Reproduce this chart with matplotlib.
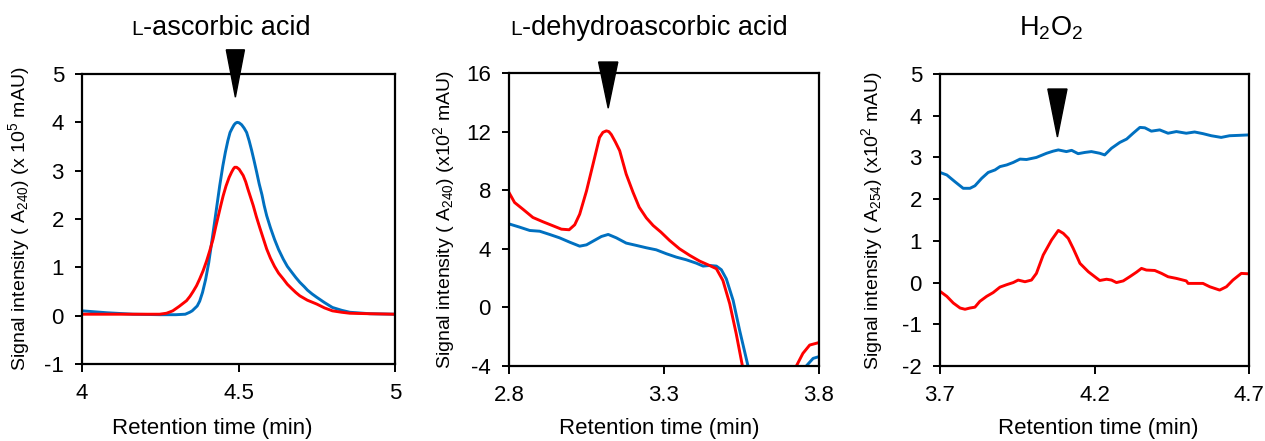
import matplotlib
matplotlib.use('Agg')
import numpy as np
import matplotlib.pyplot as plt

plt.rcParams['font.family'] = ['Liberation Sans', 'DejaVu Sans']
plt.rcParams['mathtext.default'] = 'regular'
plt.rcParams['axes.unicode_minus'] = False

BLUE = '#0070C0'
RED = '#FF0000'

# panel 1: L-ascorbic acid (x 10^5 mAU)
asc_blue_t = [4.0, 4.08, 4.163, 4.25, 4.30, 4.33, 4.344, 4.352, 4.36, 4.368, 4.376, 4.385, 4.395,
              4.405, 4.414, 4.425, 4.44, 4.45, 4.458, 4.466, 4.473, 4.48, 4.486, 4.491, 4.496,
              4.502, 4.51, 4.518, 4.526, 4.534, 4.542, 4.55, 4.558, 4.566, 4.575, 4.582, 4.59,
              4.602, 4.615, 4.628, 4.643, 4.656, 4.67, 4.683, 4.696, 4.71, 4.72, 4.735, 4.75,
              4.775, 4.80, 4.83, 4.856, 4.92, 5.0]
asc_blue_v = [0.1, 0.06, 0.03, 0.02, 0.02, 0.03, 0.07, 0.1, 0.15, 0.2, 0.3, 0.48, 0.75,
              1.1, 1.5, 2.0, 2.69, 3.1, 3.38, 3.62, 3.79, 3.88, 3.95, 3.985, 4.0,
              3.99, 3.95, 3.88, 3.79, 3.62, 3.42, 3.2, 2.97, 2.73, 2.5, 2.28, 2.07,
              1.82, 1.58, 1.37, 1.17, 1.02, 0.9, 0.79, 0.69, 0.6, 0.53, 0.45, 0.38,
              0.27, 0.17, 0.11, 0.07, 0.04, 0.03]
asc_red_t = [4.0, 4.1, 4.2, 4.248, 4.27, 4.29, 4.31, 4.322, 4.334, 4.345, 4.355, 4.366, 4.376,
             4.387, 4.398, 4.408, 4.419, 4.427, 4.435, 4.443, 4.451, 4.46, 4.47, 4.478, 4.484,
             4.488, 4.494, 4.502, 4.508, 4.515, 4.523, 4.53, 4.538, 4.547, 4.557, 4.568, 4.579,
             4.59, 4.602, 4.615, 4.628, 4.643, 4.656, 4.67, 4.683, 4.696, 4.72, 4.75, 4.775,
             4.80, 4.83, 4.856, 4.92, 5.0]
asc_red_v = [0.03, 0.03, 0.03, 0.03, 0.05, 0.1, 0.19, 0.25, 0.31, 0.4, 0.5, 0.62, 0.76,
             0.93, 1.13, 1.34, 1.59, 1.83, 2.05, 2.27, 2.48, 2.68, 2.86, 2.97, 3.04,
             3.07, 3.07, 3.03, 2.97, 2.9, 2.77, 2.62, 2.46, 2.28, 2.05, 1.82, 1.6,
             1.38, 1.19, 1.02, 0.88, 0.76, 0.65, 0.56, 0.48, 0.41, 0.32, 0.24, 0.16,
             0.1, 0.07, 0.05, 0.04, 0.03]

# panel 2: L-dehydroascorbic acid (x10^2 mAU), NaN = trace below axis
dha_red_t = [2.8, 2.818, 2.845, 2.877, 2.91, 2.942, 2.969, 2.994, 3.012, 3.028, 3.05, 3.071,
             3.092, 3.103, 3.114, 3.122, 3.13, 3.143, 3.157, 3.178, 3.2, 3.22, 3.243, 3.265,
             3.29, 3.318, 3.35, 3.383, 3.415, 3.447, 3.469, 3.49, 3.512, 3.533, 3.553, 3.557,
             np.nan, 3.723, 3.727, 3.748, 3.77, 3.8]
dha_red_v = [7.84, 7.16, 6.7, 6.14, 5.84, 5.57, 5.34, 5.3, 5.64, 6.36, 7.95, 9.77,
             11.6, 11.95, 12.05, 12.0, 11.8, 11.3, 10.7, 9.1, 7.86, 6.84, 6.11, 5.59,
             5.14, 4.57, 4.0, 3.55, 3.16, 2.86, 2.64, 1.84, 0.25, -1.8, -4.0, -4.5,
             np.nan, -4.5, -4.0, -3.14, -2.57, -2.4]
dha_blue_t = [2.8, 2.834, 2.867, 2.899, 2.931, 2.963, 2.996, 3.028, 3.05, 3.071, 3.098, 3.12,
              3.146, 3.178, 3.211, 3.243, 3.275, 3.308, 3.34, 3.372, 3.404, 3.426, 3.447,
              3.469, 3.485, 3.501, 3.523, 3.544, 3.571, 3.575, np.nan,
              3.755, 3.759, 3.781, 3.8]
dha_blue_v = [5.7, 5.48, 5.25, 5.2, 4.98, 4.75, 4.45, 4.18, 4.27, 4.52, 4.84, 4.98,
              4.75, 4.39, 4.23, 4.07, 3.93, 3.66, 3.43, 3.25, 3.02, 2.82, 2.86,
              2.82, 2.57, 1.95, 0.48, -1.57, -4.0, -4.5, np.nan,
              -4.5, -4.0, -3.48, -3.36]

# panel 3: H2O2 (x10^2 mAU)
h2o2_blue_t = [3.7, 3.722, 3.748, 3.775, 3.797, 3.813, 3.835, 3.856, 3.878, 3.894, 3.916, 3.937,
               3.959, 3.98, 4.012, 4.045, 4.066, 4.083, 4.109, 4.126, 4.147, 4.169, 4.19,
               4.217, 4.233, 4.255, 4.282, 4.304, 4.325, 4.347, 4.363, 4.384, 4.411, 4.438,
               4.465, 4.497, 4.524, 4.551, 4.578, 4.61, 4.637, 4.67, 4.7]
h2o2_blue_v = [2.64, 2.58, 2.42, 2.26, 2.26, 2.32, 2.5, 2.64, 2.7, 2.78, 2.82, 2.88,
               2.96, 2.95, 3.0, 3.1, 3.15, 3.18, 3.14, 3.17, 3.09, 3.12, 3.14,
               3.1, 3.06, 3.22, 3.36, 3.44, 3.58, 3.72, 3.71, 3.63, 3.66, 3.58,
               3.62, 3.58, 3.61, 3.57, 3.52, 3.48, 3.52, 3.53, 3.54]
h2o2_red_t = [3.7, 3.722, 3.743, 3.765, 3.781, 3.797, 3.813, 3.829, 3.851, 3.872, 3.894, 3.916,
              3.937, 3.953, 3.975, 3.996, 4.012, 4.034, 4.061, 4.083, 4.099, 4.115, 4.131,
              4.153, 4.18, 4.201, 4.217, 4.239, 4.255, 4.271, 4.293, 4.314, 4.336, 4.352,
              4.368, 4.395, 4.417, 4.438, 4.465, 4.497, 4.503, 4.535, 4.551, 4.573, 4.605,
              4.627, 4.648, 4.675, 4.7]
h2o2_red_v = [-0.21, -0.33, -0.49, -0.61, -0.64, -0.61, -0.59, -0.45, -0.33, -0.24, -0.11, -0.05,
              0.0, 0.06, 0.02, 0.06, 0.22, 0.66, 1.02, 1.25, 1.18, 1.06, 0.82,
              0.46, 0.26, 0.14, 0.05, 0.08, 0.06, 0.0, 0.04, 0.14, 0.25, 0.34,
              0.3, 0.29, 0.22, 0.14, 0.1, 0.04, -0.02, -0.02, -0.02, -0.1, -0.18,
              -0.1, 0.06, 0.22, 0.21]

W, H = 1265, 441
fig = plt.figure(figsize=(W / 100, H / 100), dpi=100)


def px_axes(l, t, r, b):
    return fig.add_axes([l / W, 1 - b / H, (r - l) / W, (b - t) / H])


def style(ax, xlim, ylim, xticks, xticklabels, yticks, ylabel):
    ax.set_xlim(xlim)
    ax.set_ylim(ylim)
    ax.set_xticks(xticks)
    ax.set_xticklabels(xticklabels)
    ax.set_yticks(yticks)
    for s in ax.spines.values():
        s.set_linewidth(1.6)
    ax.tick_params(direction='out', labelsize=16, width=1.4, pad=8)
    ax.tick_params(axis='y', length=5)
    ax.tick_params(axis='x', length=6)
    ax.set_ylabel(ylabel, fontsize=14)
    ax.set_xlabel('Retention time (min)', fontsize=16)


def arrow(ax, x, half, top, tip):
    ax.fill([x - half, x + half, x], [top, top, tip], color='black', clip_on=False, zorder=5)


LW = 2.1

# panel 1
ax1 = px_axes(82, 74, 395, 364)
ax1.plot(asc_blue_t, asc_blue_v, color=BLUE, lw=LW)
ax1.plot(asc_red_t, asc_red_v, color=RED, lw=LW)
style(ax1, (4, 5), (-1, 5), [4, 4.5, 5], ['4', '4.5', '5'], range(-1, 6),
      'Signal intensity ( A$_{240}$) (x 10$^5$ mAU)')
arrow(ax1, 4.49, 0.029, 5.5, 4.52)
ax1.yaxis.set_label_coords(-50 / 313, 0.5)
ax1.xaxis.set_label_coords((212 - 82) / 313, -54 / 290)

# panel 2
ax2 = px_axes(509, 73, 819, 366)
ax2.plot(dha_blue_t, dha_blue_v, color=BLUE, lw=LW)
ax2.plot(dha_red_t, dha_red_v, color=RED, lw=LW)
style(ax2, (2.8, 3.8), (-4, 16), [2.8, 3.3, 3.8], ['2.8', '3.3', '3.8'], range(-4, 17, 4),
      'Signal intensity ( A$_{240}$) (x10$^2$ mAU)')
arrow(ax2, 3.12, 0.031, 16.75, 13.6)
ax2.yaxis.set_label_coords(-52 / 310, 0.5)
ax2.xaxis.set_label_coords((659 - 509) / 310, -52 / 293)

# panel 3
ax3 = px_axes(940, 74, 1249, 366)
ax3.plot(h2o2_blue_t, h2o2_blue_v, color=BLUE, lw=LW)
ax3.plot(h2o2_red_t, h2o2_red_v, color=RED, lw=LW)
style(ax3, (3.7, 4.7), (-2, 5), [3.7, 4.2, 4.7], ['3.7', '4.2', '4.7'], range(-2, 6),
      'Signal intensity ( A$_{254}$) (x10$^2$ mAU)')
arrow(ax3, 4.08, 0.031, 4.64, 3.49)
ax3.yaxis.set_label_coords(-55 / 309, 0.5)
ax3.xaxis.set_label_coords((1098 - 940) / 309, -52 / 292)

# titles (small-cap L drawn smaller)
base = 1 - 35 / H
fig.text(143 / W, base, 'L', fontsize=15, ha='right', va='baseline')
fig.text(143 / W, base, '-ascorbic acid', fontsize=19.5, ha='left', va='baseline')
fig.text(522 / W, base, 'L', fontsize=15, ha='right', va='baseline')
fig.text(522 / W, base, '-dehydroascorbic acid', fontsize=19.5, ha='left', va='baseline')
fig.text(1051 / W, base, 'H$_2$O$_2$', fontsize=19.5, ha='center', va='baseline')

fig.savefig('out.png', dpi=100)
